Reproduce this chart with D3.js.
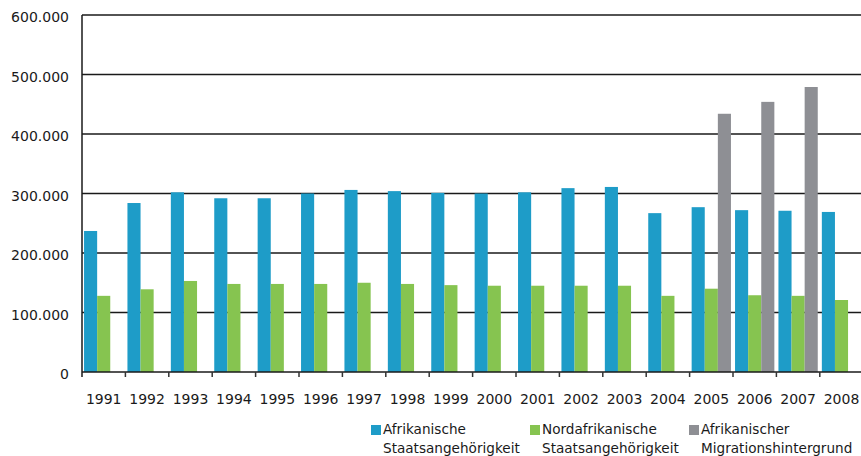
<!DOCTYPE html>
<html><head><meta charset="utf-8">
<script src="https://cdn.jsdelivr.net/npm/d3@7"></script>
<style>
html,body{margin:0;padding:0;background:#fff;overflow:hidden}
svg{display:block}
text{font-family:"DejaVu Sans",sans-serif;fill:#1a1a1a}
</style></head><body>
<svg id="chart" width="861" height="456"></svg>
<script>
const years = ["1991","1992","1993","1994","1995","1996","1997","1998","1999","2000","2001","2002","2003","2004","2005","2006","2007","2008"];
const afrikanisch = [237000,284000,302000,292000,292000,300000,306000,304000,301000,300000,302000,309000,311000,267000,277000,272000,271000,269000];
const nordafrikanisch = [128000,139000,153000,148000,148000,148000,150000,148000,146000,145000,145000,145000,145000,128000,140000,129000,128000,121000];
const migration = [null,null,null,null,null,null,null,null,null,null,null,null,null,null,434000,454000,479000,null];
const seriesNames = [["Afrikanische","Staatsangehörigkeit"],["Nordafrikanische","Staatsangehörigkeit"],["Afrikanischer","Migrationshintergrund"]];
const colors = ["#1e9cc8","#86c450","#8e8f94"];
const yTicks = [0,100000,200000,300000,400000,500000,600000];

const svg = d3.select("#chart");
const mLeft = 82, mTop = 15, mBottom = 372, band = 43.4;
const x = d3.scaleBand().domain(years).range([mLeft, mLeft + band*years.length]).padding(0);
const keys = ["a","n","m"];
const x1 = d3.scaleBand().domain(keys).range([0, x.bandwidth()]).paddingInner(0).paddingOuter(0.156);
const y = d3.scaleLinear().domain([0,600000]).range([mBottom, mTop]);

const fmt = v => v === 0 ? "0" : d3.format(",")(v).replace(/,/g, ".");

// gridlines
svg.append("g").selectAll("line").data(yTicks.filter(t=>t>0)).join("line")
  .attr("x1", mLeft).attr("x2", 861)
  .attr("y1", d=>y(d)).attr("y2", d=>y(d))
  .attr("stroke", "#1a1a1a").attr("stroke-width", 1.5);

// y labels
svg.append("g").selectAll("text").data(yTicks).join("text")
  .attr("x", 69).attr("y", d=>y(d)+2.5).attr("dy","0.35em")
  .attr("text-anchor","end").attr("font-size",14).text(fmt);

// bars
const data = years.map((yr,i)=>({yr, vals:[afrikanisch[i], nordafrikanisch[i], migration[i]]}));
const g = svg.append("g");
data.forEach(d=>{
  d.vals.forEach((v,k)=>{
    if (v == null) return;
    g.append("rect")
      .attr("x", x(d.yr) + x1(keys[k]))
      .attr("width", x1.bandwidth())
      .attr("y", y(v))
      .attr("height", y(0) - y(v))
      .attr("fill", colors[k]);
  });
});

// axes lines
svg.append("line").attr("x1", mLeft).attr("x2", 861).attr("y1", mBottom).attr("y2", mBottom)
  .attr("stroke","#1a1a1a").attr("stroke-width",1.5);
svg.append("line").attr("x1", mLeft).attr("x2", mLeft).attr("y1", mTop).attr("y2", mBottom+5)
  .attr("stroke","#1a1a1a").attr("stroke-width",1.5);
// x ticks
svg.append("g").selectAll("line").data(years.slice(1)).join("line")
  .attr("x1", d=>x(d)).attr("x2", d=>x(d)).attr("y1", mBottom).attr("y2", mBottom+5)
  .attr("stroke","#333").attr("stroke-width",1.5);
// x labels
svg.append("g").selectAll("text").data(years).join("text")
  .attr("x", d=>x(d)+x.bandwidth()/2).attr("y", 404)
  .attr("text-anchor","middle").attr("font-size",14).text(d=>d);

// legend
const legX = [371, 530, 689];
seriesNames.forEach((n,k)=>{
  svg.append("rect").attr("x", legX[k]).attr("y", 425).attr("width",10).attr("height",10).attr("fill", colors[k]);
  svg.append("text").attr("x", legX[k]+12).attr("y", 434).attr("font-size",13.6).text(n[0]);
  svg.append("text").attr("x", legX[k]+12).attr("y", 452.5).attr("font-size",13.6).text(n[1]);
});
</script>
</body></html>
